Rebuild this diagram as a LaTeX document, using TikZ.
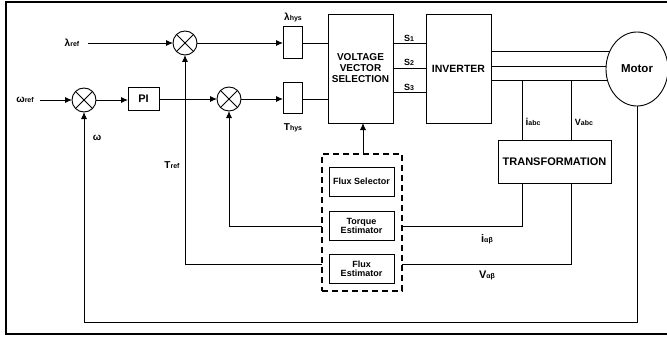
\documentclass[tikz,border=0pt]{standalone}
\usepackage{fontspec}
\setmainfont{Liberation Sans}
\usetikzlibrary{arrows.meta,shapes.geometric}
\newcommand{\fs}[1]{\fontsize{#1}{#1}\selectfont}
\newcommand{\sbs}[1]{{\fs{7}#1}}
\begin{document}
\begin{tikzpicture}[x=1pt,y=-1pt, font=\bfseries,
  box/.style={draw,line width=0.9pt,inner sep=0pt,outer sep=0pt,align=center},
  sumj/.style={draw,circle,line width=0.9pt,minimum size=24pt,inner sep=0pt,outer sep=0pt},
  ln/.style={line width=0.9pt},
  arr/.style={ln,-{Latex[length=7pt,width=6pt]}},
  lbl/.style={inner sep=0pt,outer sep=0pt,font=\bfseries\fs{10}}]
\useasboundingbox (0,0) rectangle (667,337);
\clip (0,0) rectangle (667,337);
% frame
\draw[line width=2.5pt] (675,2) -- (6,2) -- (6,334) -- (675,334);
% summing junctions
\node[sumj] (s1) at (185,43) {};
\node[sumj] (s2) at (84,100) {};
\node[sumj] (s3) at (229,99) {};
\foreach \s in {s1,s2,s3}{\draw[ln] (\s.45) -- (\s.225) (\s.135) -- (\s.315);}
% boxes
\node[box,minimum width=31pt,minimum height=23pt,font=\bfseries\fs{11}] (pi) at (143.5,99) {PI};
\node[box,minimum width=19pt,minimum height=32pt] (lh) at (292.5,42) {};
\node[box,minimum width=19pt,minimum height=31pt] (th) at (292.5,98) {};
\node[box,minimum width=65pt,minimum height=109pt,font=\bfseries\fs{10}] (vvs) at (360.5,68.5) {VOLTAGE\\[1pt]VECTOR\\[1pt]SELECTION};
\node[box,minimum width=65pt,minimum height=109pt,font=\bfseries\fs{10.5}] (inv) at (458.5,68.5) {INVERTER};
\node[box,draw,ellipse,minimum width=62pt,minimum height=74pt,font=\bfseries\fs{11.5}] (motor) at (637,69) {Motor};
\node[box,minimum width=113pt,minimum height=43pt,font=\bfseries\fs{11}] (trans) at (554.5,161.5) {TRANSFORMATION};
\node[box,dash pattern=on 6pt off 4pt,line width=1.3pt,minimum width=80pt,minimum height=137pt] (dash) at (362,222.5) {};
\node[box,minimum width=65pt,minimum height=29pt,font=\bfseries\fs{9}] (fsel) at (361.5,181.5) {Flux Selector};
\node[box,minimum width=65pt,minimum height=29pt,font=\bfseries\fs{9}] (test) at (361.5,225.5) {Torque\\Estimator};
\node[box,minimum width=65pt,minimum height=29pt,font=\bfseries\fs{9}] (fest) at (361.5,268.5) {Flux\\Estimator};
% labels
\node[lbl] (lref) at (72,43) {λ\sbs{ref}};
\node[lbl] (wref) at (25,100) {ω\sbs{ref}};
\node[lbl] (w) at (97,138) {ω};
\node[lbl] (tref) at (172,165) {T\sbs{ref}};
\node[lbl] (lhys) at (293,17) {λ\sbs{hys}};
\node[lbl] (thys) at (293,128) {T\sbs{hys}};
\node[lbl,font=\bfseries\fs{9}] (s1l) at (409,38) {S\sbs{1}};
\node[lbl,font=\bfseries\fs{9}] (s2l) at (409,62) {S\sbs{2}};
\node[lbl,font=\bfseries\fs{9}] (s3l) at (409,87) {S\sbs{3}};
\node[lbl,font=\bfseries\fs{10}] (iabc) at (533,122) {i\sbs{abc}};
\node[lbl,font=\bfseries\fs{9}] (vabc) at (584,122) {V\sbs{abc}};
\node[lbl,font=\bfseries\fs{11}] (iab) at (487,239) {i\sbs{αβ}};
\node[lbl,font=\bfseries\fs{11}] (vab) at (487,275) {V\sbs{αβ}};
% forward path
\coordinate (lstart) at (88,43);
\coordinate (wstart) at (40,100);
\draw[arr] (lstart) -- (s1.west);
\draw[arr] (s1.east) -- (s1.east -| lh.west);
\draw[arr] (wstart) -- (s2.west);
\draw[arr] (s2.east) -- (s2.east -| pi.west);
\draw[arr] (pi.east) -- (pi.east -| s3.west);
\draw[arr] (s3.east) -- (s3.east -| th.west);
\draw[ln] (lh.east |- s1) -- (s1 -| vvs.west);
\draw[ln] (th.east |- s3) -- (s3 -| vvs.west);
% switching signals
\foreach \yy in {43,68,92}{\draw[ln] (vvs.east |- 0,\yy) -- (inv.west |- 0,\yy);}
% inverter to motor
\foreach \a in {148,176,202}{\draw[ln] (motor.\a) -- (motor.\a -| inv.east);}
% measurements
\coordinate (ta) at (522,81);
\coordinate (tv) at (571,81);
\draw[ln] (ta) -- (ta |- trans.north);
\draw[ln] (tv) -- (tv |- trans.north);
\draw[ln] (ta |- trans.south) |- (dash.east |- 0,226);
\draw[ln] (tv |- trans.south) |- (dash.east |- 0,264);
% estimators feedback
\draw[arr] (dash.west |- 0,226) -| (s3.south);
\draw[arr] (dash.west |- 0,264) -| (s1.south);
\draw[arr] (dash.north -| 363,0) -- (vvs.south -| 363,0);
% speed feedback
\coordinate (fb) at (84,322);
\draw[arr] (motor.south) |- (fb) -- (s2.south);
\end{tikzpicture}
\end{document}
